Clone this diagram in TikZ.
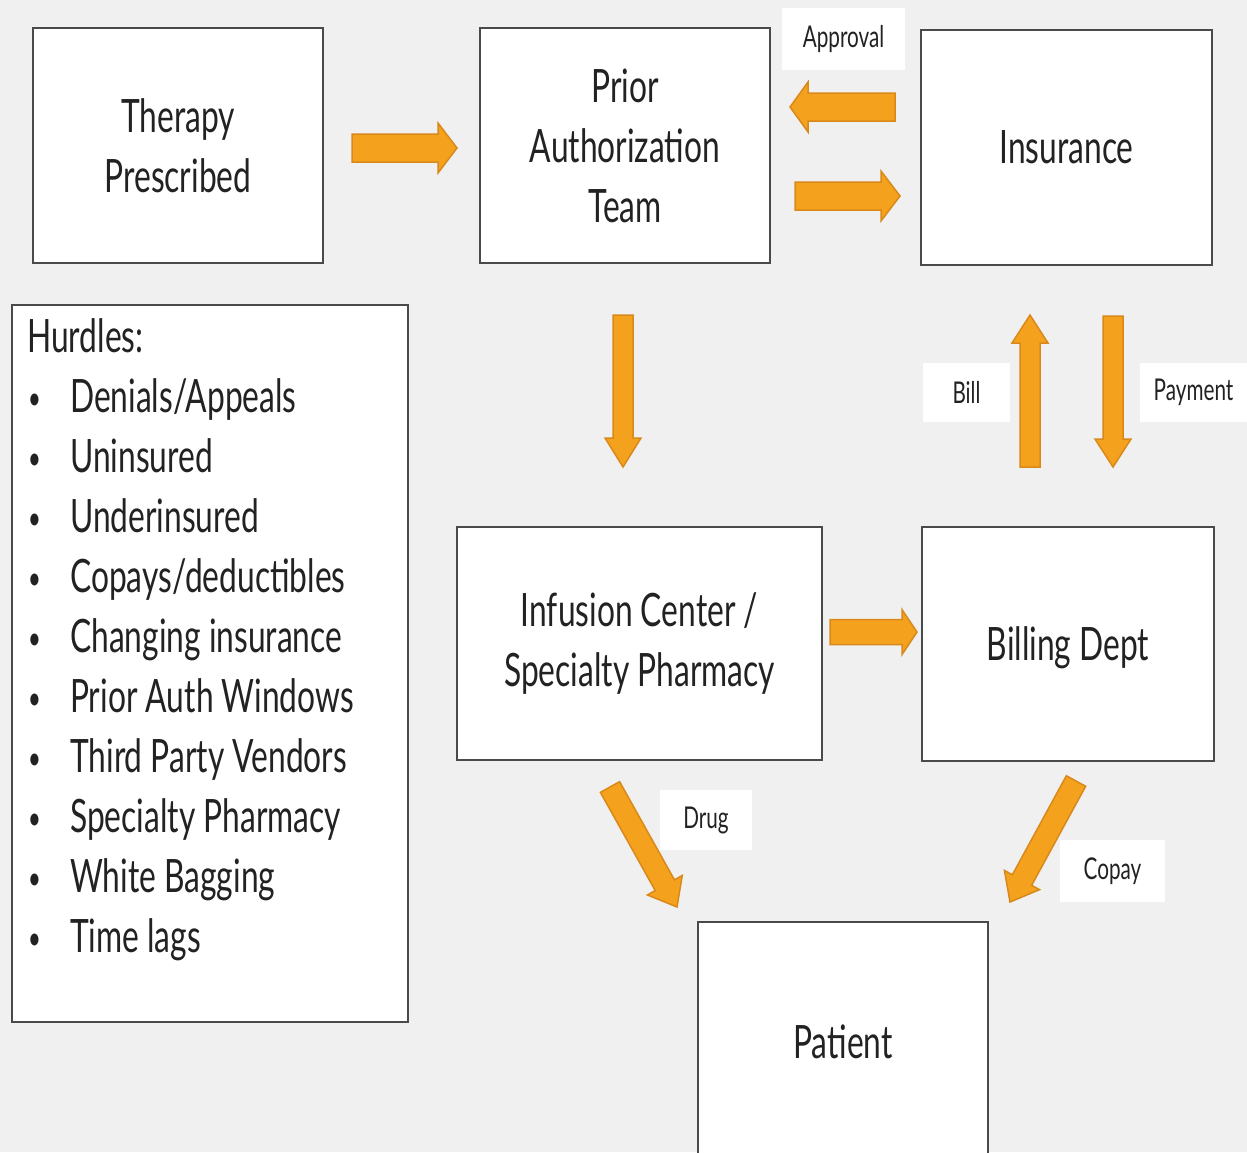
\documentclass[tikz,border=0pt]{standalone}
\usepackage{fontspec}
\setmainfont{Lato}[FakeStretch=0.69]
\usetikzlibrary{calc}
\definecolor{bg}{HTML}{F0F0F0}
\definecolor{arrfill}{HTML}{F4A21E}
\definecolor{arrline}{HTML}{D9891A}
\definecolor{boxline}{HTML}{4A4A4A}
\definecolor{txt}{HTML}{222222}
\newcommand\blockarr[5]{% tail, tip, shaft half width, head half width, head length
  \path ($(#2)!#5pt!(#1)$) coordinate (hb);
  \draw[barrow] ($(#1)!#3pt!90:(#2)$) -- ($(hb)!#3pt!-90:(#1)$) -- ($(hb)!#4pt!-90:(#1)$) -- (#2)
    -- ($(hb)!#4pt!90:(#1)$) -- ($(hb)!#3pt!90:(#1)$) -- ($(#1)!#3pt!-90:(#2)$) -- cycle;}
\begin{document}
\begin{tikzpicture}[x=1pt,y=-1pt,
  box/.style={draw=boxline, line width=2.5pt, fill=white, align=center, text=txt,
    font=\fontsize{46}{60}\selectfont, inner sep=0pt},
  boxone/.style={box, text depth=0pt},
  lbl/.style={fill=white, inner sep=0pt, text=txt, font=\fontsize{30}{32}\selectfont},
  item/.style={anchor=base west, inner sep=0pt, text=txt, font=\fontsize{46}{60}\selectfont},
  bul/.style={anchor=base west, inner sep=0pt, text=txt, font=\fontsize{32}{32}\selectfont},
  barrow/.style={fill=arrfill, draw=arrline, line width=1.5pt, line join=miter}]
\clip (0,0) rectangle (1247,1152);
\fill[bg] (0,0) rectangle (1247,1152);

% boxes
\node[box, minimum width=290pt, minimum height=235pt] (therapy) at (178,145.5) {Therapy\\Prescribed};
\node[box, minimum width=290pt, minimum height=235pt] (pa) at (625,145.5) {Prior\\Authorization\\Team};
\node[boxone, minimum width=291pt, minimum height=235pt] (ins) at (1066.5,147.5) {Insurance};
\node[box, minimum width=396pt, minimum height=717pt] (hurdles) at (210,663.5) {};
\node[box, minimum width=365pt, minimum height=233pt] (inf) at (639.5,643.5) {Infusion Center /\\Specialty Pharmacy};
\node[boxone, minimum width=292pt, minimum height=234pt] (bill) at (1068,644) {Billing Dept};
\node[boxone, minimum width=290pt, minimum height=240pt] (patient) at (843,1042) {Patient};

% hurdles list
\node[item] (htitle) at (27,352) {Hurdles:};
\foreach \t [count=\i] in {Denials/Appeals, Uninsured, Underinsured, Copays/deductibles,
  Changing insurance, Prior Auth Windows, Third Party Vendors, Specialty Pharmacy,
  White Bagging, Time lags}{
  \node[bul] (b\i) at (28,349+60*\i) {\textbullet};
  \node[item] (h\i) at (70,352+60*\i) {\t};
}

% labels
\node[lbl, minimum width=123pt, minimum height=62pt] (lapp) at (843.5,39) {Approval};
\node[lbl, minimum width=87pt, minimum height=59pt] (lbill) at (966.5,392.5) {Bill};
\node[lbl, minimum width=107pt, minimum height=59pt] (lpay) at (1193.5,392.5) {Payment};
\node[lbl, minimum width=92pt, minimum height=60pt] (ldrug) at (706,820) {Drug};
\node[lbl, minimum width=105pt, minimum height=62pt] (lcopay) at (1112.5,871) {Copay};

% arrow end points
\coordinate (a1t) at (352,148);  \coordinate (a1h) at (457,148);
\coordinate (a2t) at (895,107);  \coordinate (a2h) at (790,107);
\coordinate (a3t) at (795,196);  \coordinate (a3h) at (900,196);
\coordinate (a4t) at (623,315);  \coordinate (a4h) at (623,467);
\coordinate (a5t) at (1030,467); \coordinate (a5h) at (1030,315);
\coordinate (a6t) at (1113,316); \coordinate (a6h) at (1113,467);
\coordinate (a7t) at (830,632);  \coordinate (a7h) at (917,632);
\coordinate (a8t) at (610,787);  \coordinate (a8h) at (677,907);
\coordinate (a9t) at (1076,781); \coordinate (a9h) at (1010,902);

\blockarr{a1t}{a1h}{14}{25}{19}
\blockarr{a2t}{a2h}{14}{25}{18}
\blockarr{a3t}{a3h}{14}{25}{19}
\blockarr{a4t}{a4h}{10}{18}{29}
\blockarr{a5t}{a5h}{10}{18}{28}
\blockarr{a6t}{a6h}{10}{18}{28}
\blockarr{a7t}{a7h}{12.5}{22.5}{15}
\blockarr{a8t}{a8h}{11}{20}{25}
\blockarr{a9t}{a9h}{11}{20}{25}
\end{tikzpicture}
\end{document}
